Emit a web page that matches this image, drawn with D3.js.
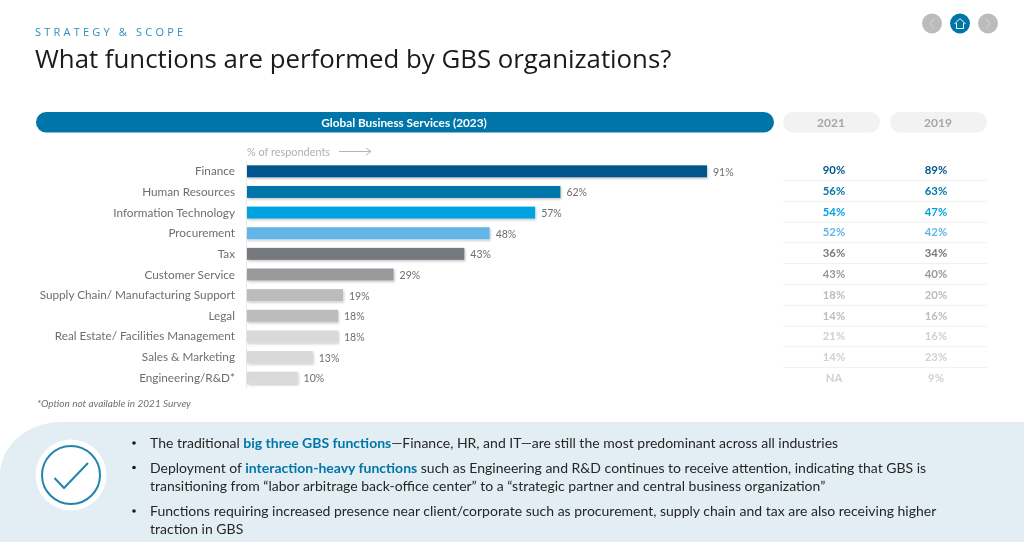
<!DOCTYPE html>
<html><head><meta charset="utf-8">
<script src="https://cdn.jsdelivr.net/npm/d3@7/dist/d3.min.js"></script>
<style>html,body{margin:0;padding:0;background:#fff;overflow:hidden}svg{display:block;filter:blur(.45px)}</style>
</head><body><svg id="c" width="1024" height="542"></svg>
<script>
const categories=["Finance","Human Resources","Information Technology","Procurement","Tax","Customer Service","Supply Chain/ Manufacturing Support","Legal","Real Estate/ Facilities Management","Sales & Marketing","Engineering/R&D*"];
const values2023=[91,62,57,48,43,29,19,18,18,13,10];
const values2021=["90%","56%","54%","52%","36%","43%","18%","14%","21%","14%","NA"];
const values2019=["89%","63%","47%","42%","34%","40%","20%","16%","16%","23%","9%"];
const barColors=["#00558c","#0076a8","#00a3e0","#62b5e5","#75787b","#97999b","#bbbcbc","#bbbcbc","#d9d9d9","#d9d9d9","#d9d9d9"];
const tableColors=["#00558c","#0076a8","#00a3e0","#62b5e5","#75787b","#97999b","#bbbcbc","#bbbcbc","#d0d0d0","#d0d0d0","#d0d0d0"];
const bullets=[
 [[["The traditional ",0],["big three GBS functions",1],["—Finance, HR, and IT—are still the most predominant across all industries",0]]],
 [[["Deployment of ",0],["interaction-heavy functions",1],[" such as Engineering and R&D continues to receive attention, indicating that GBS is",0]],
  [["transitioning from “labor arbitrage back-office center” to a “strategic partner and central business organization”",0]]],
 [[["Functions requiring increased presence near client/corporate such as procurement, supply chain and tax are also receiving higher",0]],
  [["traction in GBS",0]]]
];
const bulletY=[[448],[472.5,490.5],[516,534]];
const sans="'Open Sans',sans-serif", body="Lato,'Open Sans',sans-serif";
const svg=d3.select("#c");
const defs=svg.append("defs");
const sh=defs.append("filter").attr("id","sh").attr("x","-5%").attr("y","-30%").attr("width","110%").attr("height","170%");
sh.append("feDropShadow").attr("dx",1).attr("dy",1.5).attr("stdDeviation",1.2).attr("flood-color","#000").attr("flood-opacity",.22);

// header
svg.append("text").attr("x",35).attr("y",36).attr("font-family",sans).attr("font-size",11).attr("letter-spacing",3.2).attr("fill","#2f8fc0").text("STRATEGY & SCOPE");
svg.append("text").attr("x",35).attr("y",68).attr("font-family",sans).attr("font-size",25.8).attr("fill","#1a1a1a").text("What functions are performed by GBS organizations?");
// nav
[[932,"#bbbcbc"],[960,"#0076a8"],[988,"#bbbcbc"]].forEach(d=>svg.append("circle").attr("cx",d[0]).attr("cy",23.5).attr("r",10).attr("fill",d[1]));
svg.append("path").attr("d","M934,18.5l-4,5l4,5M986,18.5l4,5l-4,5").attr("fill","none").attr("stroke","#d8d8d8").attr("stroke-width",1);
svg.append("path").attr("d","M954.5,24l5.5,-5.5l5.5,5.5M956.5,23v5.5h7v-5.5").attr("fill","none").attr("stroke","#fff").attr("stroke-width",1);
// pills
svg.append("rect").attr("x",36).attr("y",112).attr("width",738).attr("height",20.5).attr("rx",10.2).attr("fill","#0076a8");
svg.append("text").attr("x",404).attr("y",127).attr("text-anchor","middle").attr("font-family",body).attr("font-size",11.8).attr("font-weight",700).attr("fill","#fff").text("Global Business Services (2023)");
[[783,97,"2021",831],[890,97,"2019",938]].forEach(d=>{
 svg.append("rect").attr("x",d[0]).attr("y",112).attr("width",d[1]).attr("height",20.5).attr("rx",10.2).attr("fill","#f2f2f2");
 svg.append("text").attr("x",d[3]).attr("y",127).attr("text-anchor","middle").attr("font-family",body).attr("font-size",12).attr("font-weight",700).attr("fill","#a6a6a6").text(d[2]);
});
svg.append("text").attr("x",247).attr("y",156).attr("font-family",body).attr("font-size",10.9).attr("fill","#b0b0b0").text("% of respondents");
svg.append("path").attr("d","M339,151.5H371M366,148l5,3.5l-5,3.5").attr("fill","none").attr("stroke","#b5b5b5").attr("stroke-width",1);

// scales
const x=d3.scaleLinear().domain([0,91]).range([247,707]);
const y=d3.scaleBand().domain(categories).range([161,388]).paddingInner(.42).paddingOuter(.21);
const tableY=d3.scaleBand().domain(categories).range([159.6,388.4]);
const mid=c=>y(c)+y.bandwidth()/2;
const tableMid=c=>tableY(c)+tableY.bandwidth()/2;

svg.append("line").attr("x1",246.5).attr("x2",246.5).attr("y1",161).attr("y2",388).attr("stroke","#e8e8e8");
// row rules
svg.append("g").selectAll("line").data(categories.slice(0,-1)).join("line")
 .attr("x1",783).attr("x2",987).attr("y1",c=>tableY(c)+tableY.bandwidth()).attr("y2",c=>tableY(c)+tableY.bandwidth()).attr("stroke","#f0f0f0");
// bars
svg.append("g").selectAll("rect").data(categories).join("rect")
 .attr("x",x(0)).attr("y",c=>y(c)).attr("height",y.bandwidth())
 .attr("width",(c,i)=>x(values2023[i])-x(0)).attr("fill",(c,i)=>barColors[i]).attr("filter","url(#sh)");
// labels
svg.append("g").selectAll("text").data(categories).join("text")
 .attr("x",235).attr("y",c=>mid(c)+4).attr("text-anchor","end").attr("font-family",body).attr("font-size",11.75).attr("fill","#6e6e6e").text(c=>c);
svg.append("g").selectAll("text").data(categories).join("text")
 .attr("x",(c,i)=>x(values2023[i])+6).attr("y",c=>mid(c)+4.5).attr("font-family",body).attr("font-size",10.5).attr("fill","#6e6e6e").text((c,i)=>values2023[i]+"%");
// table columns
[[values2021,834],[values2019,936]].forEach(([vals,cx])=>{
 svg.append("g").selectAll("text").data(categories).join("text")
  .attr("x",cx).attr("y",c=>tableMid(c)+4).attr("text-anchor","middle").attr("font-family",body).attr("font-size",11.3).attr("font-weight",700)
  .attr("fill",(c,i)=>tableColors[i]).text((c,i)=>vals[i]);
});
svg.append("text").attr("x",37).attr("y",406.5).attr("font-family",body).attr("font-size",10).attr("font-style","italic").attr("fill","#707070").text("*Option not available in 2021 Survey");

// callout
svg.append("path").attr("d","M0,475C0,445 28,422 62,422H1024V542H0Z").attr("fill","#e3eef4");
svg.append("circle").attr("cx",71).attr("cy",475).attr("r",35.5).attr("fill","#fff");
svg.append("circle").attr("cx",71).attr("cy",475).attr("r",29).attr("fill","none").attr("stroke","#2384ad").attr("stroke-width",2);
svg.append("path").attr("d","M54.5,478L64,488L88,463").attr("fill","none").attr("stroke","#2384ad").attr("stroke-width",2);
bullets.forEach((lines,i)=>{
 svg.append("circle").attr("cx",134).attr("cy",bulletY[i][0]-5).attr("r",1.8).attr("fill","#1a1a1a");
 lines.forEach((runs,j)=>{
  const t=svg.append("text").attr("x",150).attr("y",bulletY[i][j]).attr("font-family",body).attr("font-size",14).attr("fill","#262626");
  runs.forEach(r=>t.append("tspan").attr("fill",r[1]?"#0076a8":"#262626").attr("font-weight",r[1]?700:400).text(r[0]));
 });
});
</script></body></html>
